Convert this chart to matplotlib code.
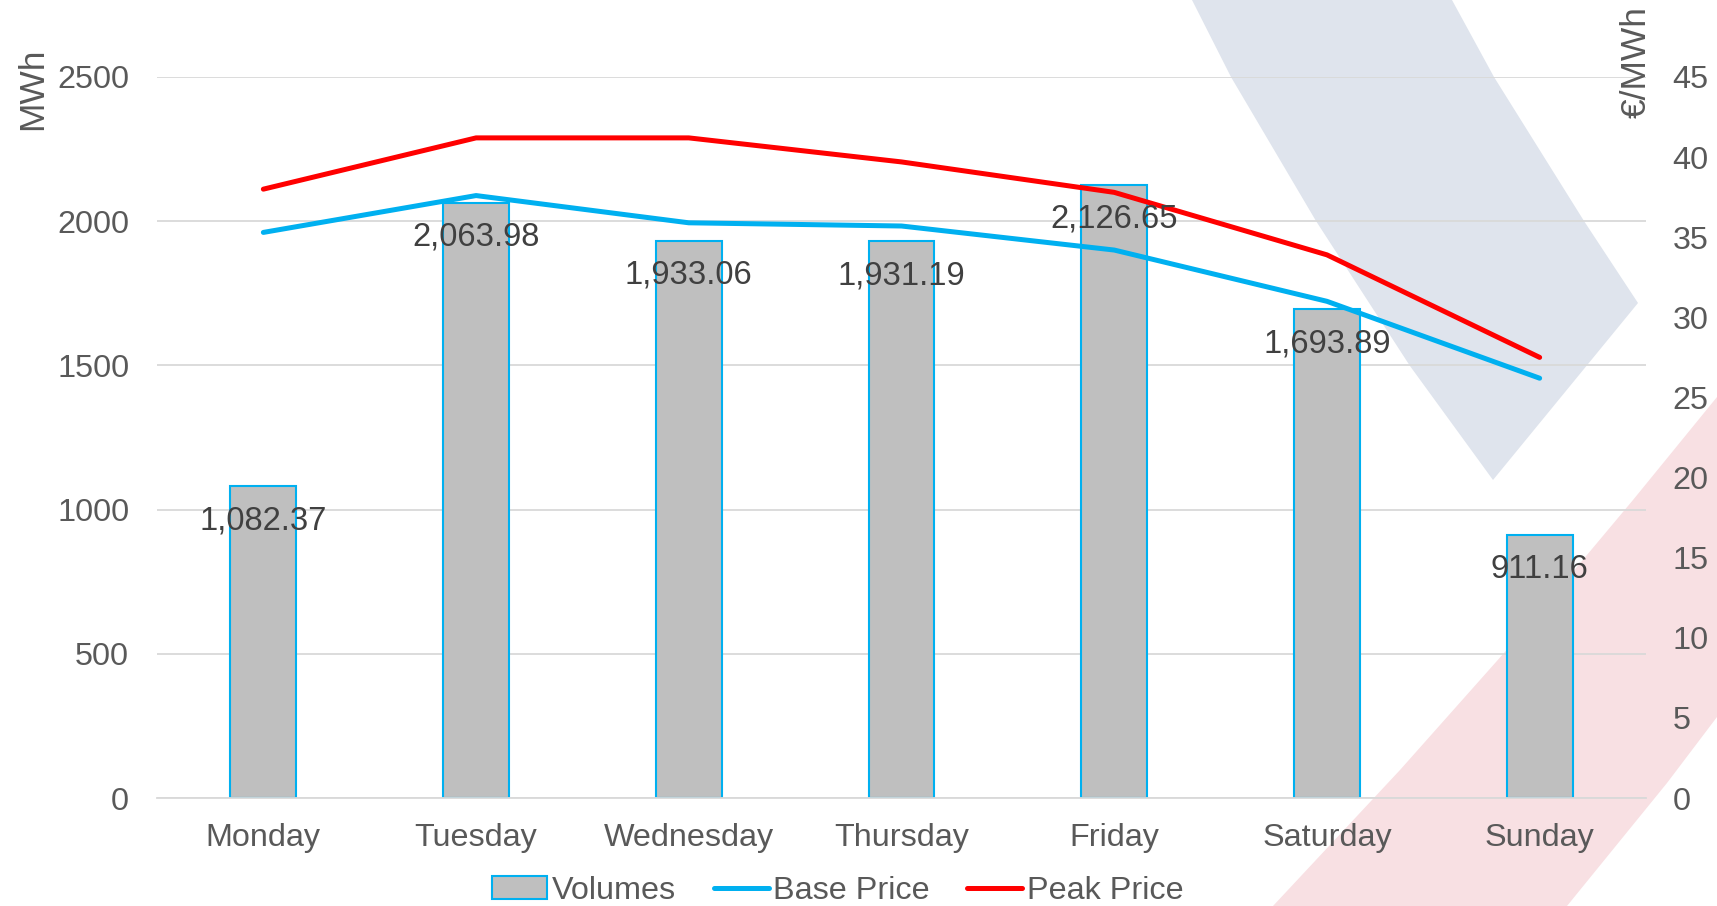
import numpy as np
import matplotlib.pyplot as plt
from matplotlib.patches import Polygon, Patch
from matplotlib.lines import Line2D

plt.rcParams['font.family'] = ['Liberation Sans', 'DejaVu Sans']

# 数据
days = ["Monday", "Tuesday", "Wednesday", "Thursday", "Friday", "Saturday", "Sunday"]
volumes = [1082.37, 2063.98, 1933.06, 1931.19, 2126.65, 1693.89, 911.16]
base_price = [35.3, 37.6, 35.9, 35.7, 34.2, 31.0, 26.2]
peak_price = [38.0, 41.2, 41.2, 39.7, 37.8, 33.9, 27.5]

W, H = 1717, 906
fig = plt.figure(figsize=(W / 100, H / 100), dpi=100)

# 背景装饰色带 (像素坐标 -> 图坐标)
def band(pts, color):
    xy = [(x / W, 1 - y / H) for x, y in pts]
    fig.patches.append(Polygon(xy, closed=True, transform=fig.transFigure,
                               facecolor=color, edgecolor='none', zorder=-10))

band([(1192, 0), (1452, 0), (1494, 77), (1584, 221), (1638, 303), (1493, 480),
      (1410, 366), (1316, 221), (1231, 77)], '#DFE4ED')
band([(1273, 906), (1400, 770), (1520, 635), (1633, 500), (1717, 397),
      (1717, 717), (1667, 783), (1567, 906)], '#F8E0E3')

ax = fig.add_axes([157 / W, 1 - 798 / H, (1646 - 157) / W, (798 - 77) / H])
ax.patch.set_visible(False)
ax2 = ax.twinx()
ax2.patch.set_visible(False)

x = np.arange(len(days))
grey = '#BFBFBF'
cyan = '#00B0F0'
red = '#FF0000'
txt = '#595959'
fs = 23.3

ax.bar(x, volumes, width=0.31, color=grey, edgecolor=cyan, linewidth=1.5, zorder=2)
ax.set_ylim(0, 2500)
ax.set_xlim(-0.5, len(days) - 0.5)
ax.set_yticks(np.arange(0, 2501, 500))
ax.set_xticks(x)
ax.set_xticklabels(days)
ax.grid(axis='y', color='#D9D9D9', linewidth=1.3, zorder=0)
ax.set_axisbelow(True)
for s in ['top', 'left', 'right']:
    ax.spines[s].set_visible(False)
ax.spines['bottom'].set_color('#D9D9D9')
ax.spines['bottom'].set_linewidth(1.3)
ax.tick_params(axis='y', length=0, pad=20, labelsize=fs, labelcolor=txt)
ax.tick_params(axis='x', length=0, pad=18, labelsize=fs, labelcolor=txt)

ax2.plot(x, base_price, color=cyan, linewidth=3.6, solid_capstyle='round', zorder=3)
ax2.plot(x, peak_price, color=red, linewidth=3.6, solid_capstyle='round', zorder=3)
ax2.set_ylim(0, 45)
ax2.set_yticks(np.arange(0, 46, 5))
for s in ax2.spines.values():
    s.set_visible(False)
ax2.tick_params(axis='y', length=0, pad=19, labelsize=fs, labelcolor=txt)

# 数据标签
for xi, v in zip(x, volumes):
    ax2.annotate(f"{v:,.2f}", xy=(xi, v), xycoords=ax.transData,
                 xytext=(0, -25), textcoords='offset points',
                 ha='center', va='center', fontsize=23.6, color='#404040', zorder=5)

fig.text(33 / W, 1 - 89 / H, "MWh", rotation=90, ha='center', va='center',
         fontsize=25.5, color=txt)
fig.text(1636 / W, 1 - 62 / H, "€/MWh", rotation=90, ha='center', va='center',
         fontsize=25.5, color=txt)

handles = [Patch(facecolor=grey, edgecolor=cyan, linewidth=1.5),
           Line2D([], [], color=cyan, linewidth=3.6, solid_capstyle='round'),
           Line2D([], [], color=red, linewidth=3.6, solid_capstyle='round')]
fig.legend(handles, ["Volumes", "Base Price", "Peak Price"], loc='center',
           bbox_to_anchor=(838 / W, 1 - 891 / H), ncol=3, frameon=False,
           fontsize=fs, labelcolor=txt, handlelength=1.7, handletextpad=0.15,
           columnspacing=1.15, handleheight=0.7)

fig.savefig("out.png", dpi=100)
